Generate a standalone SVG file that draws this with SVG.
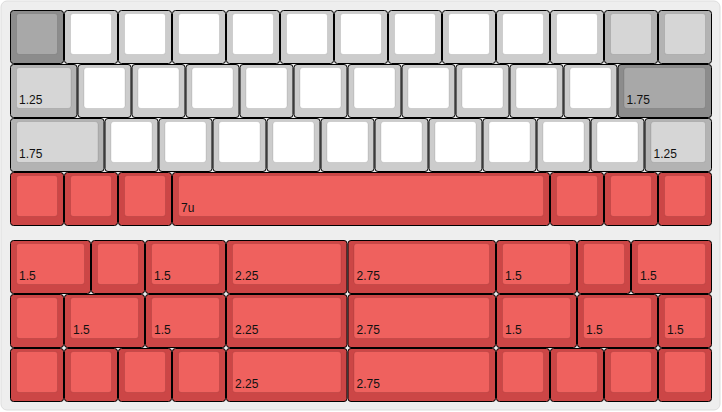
<svg xmlns="http://www.w3.org/2000/svg" width="722" height="412" viewBox="0 0 722 412">
<style>
.o{stroke:#000;stroke-width:1}
.i{stroke:rgba(0,0,0,0.1);stroke-width:1}
.w .o{fill:#cccccc}.w .i{fill:#ffffff}
.l .o{fill:#b3b3b3}.l .i{fill:#d6d6d6}
.d .o{fill:#8c8c8c}.d .i{fill:#a8a8a8}
.r .o{fill:#cc4646}.r .i{fill:#ef615e}
text{font-family:"Liberation Sans",Arial,sans-serif;font-size:12px;fill:#111}
</style>
<rect x="1" y="1" width="719" height="409" rx="6" fill="#eeeeee" stroke="#dddddd"/>
<g id="row1">
<g id="k1" class="d"><rect class="o" x="10.5" y="10.5" width="53" height="53" rx="3"/><rect class="i" x="16.5" y="13.5" width="41" height="41" rx="3"/></g>
<g id="k2" class="w"><rect class="o" x="64.5" y="10.5" width="53" height="53" rx="3"/><rect class="i" x="70.5" y="13.5" width="41" height="41" rx="3"/></g>
<g id="k3" class="w"><rect class="o" x="118.5" y="10.5" width="53" height="53" rx="3"/><rect class="i" x="124.5" y="13.5" width="41" height="41" rx="3"/></g>
<g id="k4" class="w"><rect class="o" x="172.5" y="10.5" width="53" height="53" rx="3"/><rect class="i" x="178.5" y="13.5" width="41" height="41" rx="3"/></g>
<g id="k5" class="w"><rect class="o" x="226.5" y="10.5" width="53" height="53" rx="3"/><rect class="i" x="232.5" y="13.5" width="41" height="41" rx="3"/></g>
<g id="k6" class="w"><rect class="o" x="280.5" y="10.5" width="53" height="53" rx="3"/><rect class="i" x="286.5" y="13.5" width="41" height="41" rx="3"/></g>
<g id="k7" class="w"><rect class="o" x="334.5" y="10.5" width="53" height="53" rx="3"/><rect class="i" x="340.5" y="13.5" width="41" height="41" rx="3"/></g>
<g id="k8" class="w"><rect class="o" x="388.5" y="10.5" width="53" height="53" rx="3"/><rect class="i" x="394.5" y="13.5" width="41" height="41" rx="3"/></g>
<g id="k9" class="w"><rect class="o" x="442.5" y="10.5" width="53" height="53" rx="3"/><rect class="i" x="448.5" y="13.5" width="41" height="41" rx="3"/></g>
<g id="k10" class="w"><rect class="o" x="496.5" y="10.5" width="53" height="53" rx="3"/><rect class="i" x="502.5" y="13.5" width="41" height="41" rx="3"/></g>
<g id="k11" class="w"><rect class="o" x="550.5" y="10.5" width="53" height="53" rx="3"/><rect class="i" x="556.5" y="13.5" width="41" height="41" rx="3"/></g>
<g id="k12" class="l"><rect class="o" x="604.5" y="10.5" width="53" height="53" rx="3"/><rect class="i" x="610.5" y="13.5" width="41" height="41" rx="3"/></g>
<g id="k13" class="l"><rect class="o" x="658.5" y="10.5" width="53" height="53" rx="3"/><rect class="i" x="664.5" y="13.5" width="41" height="41" rx="3"/></g>
</g>
<g id="row2">
<g id="k14" class="l"><rect class="o" x="10.5" y="64.5" width="66.5" height="53" rx="3"/><rect class="i" x="16.5" y="67.5" width="54.5" height="41" rx="3"/><text x="19" y="104">1.25</text></g>
<g id="k15" class="w"><rect class="o" x="78" y="64.5" width="53" height="53" rx="3"/><rect class="i" x="84" y="67.5" width="41" height="41" rx="3"/></g>
<g id="k16" class="w"><rect class="o" x="132" y="64.5" width="53" height="53" rx="3"/><rect class="i" x="138" y="67.5" width="41" height="41" rx="3"/></g>
<g id="k17" class="w"><rect class="o" x="186" y="64.5" width="53" height="53" rx="3"/><rect class="i" x="192" y="67.5" width="41" height="41" rx="3"/></g>
<g id="k18" class="w"><rect class="o" x="240" y="64.5" width="53" height="53" rx="3"/><rect class="i" x="246" y="67.5" width="41" height="41" rx="3"/></g>
<g id="k19" class="w"><rect class="o" x="294" y="64.5" width="53" height="53" rx="3"/><rect class="i" x="300" y="67.5" width="41" height="41" rx="3"/></g>
<g id="k20" class="w"><rect class="o" x="348" y="64.5" width="53" height="53" rx="3"/><rect class="i" x="354" y="67.5" width="41" height="41" rx="3"/></g>
<g id="k21" class="w"><rect class="o" x="402" y="64.5" width="53" height="53" rx="3"/><rect class="i" x="408" y="67.5" width="41" height="41" rx="3"/></g>
<g id="k22" class="w"><rect class="o" x="456" y="64.5" width="53" height="53" rx="3"/><rect class="i" x="462" y="67.5" width="41" height="41" rx="3"/></g>
<g id="k23" class="w"><rect class="o" x="510" y="64.5" width="53" height="53" rx="3"/><rect class="i" x="516" y="67.5" width="41" height="41" rx="3"/></g>
<g id="k24" class="w"><rect class="o" x="564" y="64.5" width="53" height="53" rx="3"/><rect class="i" x="570" y="67.5" width="41" height="41" rx="3"/></g>
<g id="k25" class="d"><rect class="o" x="618" y="64.5" width="93.5" height="53" rx="3"/><rect class="i" x="624" y="67.5" width="81.5" height="41" rx="3"/><text x="626.5" y="104">1.75</text></g>
</g>
<g id="row3">
<g id="k26" class="l"><rect class="o" x="10.5" y="118.5" width="93.5" height="53" rx="3"/><rect class="i" x="16.5" y="121.5" width="81.5" height="41" rx="3"/><text x="19" y="158">1.75</text></g>
<g id="k27" class="w"><rect class="o" x="105" y="118.5" width="53" height="53" rx="3"/><rect class="i" x="111" y="121.5" width="41" height="41" rx="3"/></g>
<g id="k28" class="w"><rect class="o" x="159" y="118.5" width="53" height="53" rx="3"/><rect class="i" x="165" y="121.5" width="41" height="41" rx="3"/></g>
<g id="k29" class="w"><rect class="o" x="213" y="118.5" width="53" height="53" rx="3"/><rect class="i" x="219" y="121.5" width="41" height="41" rx="3"/></g>
<g id="k30" class="w"><rect class="o" x="267" y="118.5" width="53" height="53" rx="3"/><rect class="i" x="273" y="121.5" width="41" height="41" rx="3"/></g>
<g id="k31" class="w"><rect class="o" x="321" y="118.5" width="53" height="53" rx="3"/><rect class="i" x="327" y="121.5" width="41" height="41" rx="3"/></g>
<g id="k32" class="w"><rect class="o" x="375" y="118.5" width="53" height="53" rx="3"/><rect class="i" x="381" y="121.5" width="41" height="41" rx="3"/></g>
<g id="k33" class="w"><rect class="o" x="429" y="118.5" width="53" height="53" rx="3"/><rect class="i" x="435" y="121.5" width="41" height="41" rx="3"/></g>
<g id="k34" class="w"><rect class="o" x="483" y="118.5" width="53" height="53" rx="3"/><rect class="i" x="489" y="121.5" width="41" height="41" rx="3"/></g>
<g id="k35" class="w"><rect class="o" x="537" y="118.5" width="53" height="53" rx="3"/><rect class="i" x="543" y="121.5" width="41" height="41" rx="3"/></g>
<g id="k36" class="w"><rect class="o" x="591" y="118.5" width="53" height="53" rx="3"/><rect class="i" x="597" y="121.5" width="41" height="41" rx="3"/></g>
<g id="k37" class="l"><rect class="o" x="645" y="118.5" width="66.5" height="53" rx="3"/><rect class="i" x="651" y="121.5" width="54.5" height="41" rx="3"/><text x="653.5" y="158">1.25</text></g>
</g>
<g id="row4">
<g id="k38" class="r"><rect class="o" x="10.5" y="172.5" width="53" height="53" rx="3"/><rect class="i" x="16.5" y="175.5" width="41" height="41" rx="3"/></g>
<g id="k39" class="r"><rect class="o" x="64.5" y="172.5" width="53" height="53" rx="3"/><rect class="i" x="70.5" y="175.5" width="41" height="41" rx="3"/></g>
<g id="k40" class="r"><rect class="o" x="118.5" y="172.5" width="53" height="53" rx="3"/><rect class="i" x="124.5" y="175.5" width="41" height="41" rx="3"/></g>
<g id="k41" class="r"><rect class="o" x="172.5" y="172.5" width="377" height="53" rx="3"/><rect class="i" x="178.5" y="175.5" width="365" height="41" rx="3"/><text x="181" y="212">7u</text></g>
<g id="k42" class="r"><rect class="o" x="550.5" y="172.5" width="53" height="53" rx="3"/><rect class="i" x="556.5" y="175.5" width="41" height="41" rx="3"/></g>
<g id="k43" class="r"><rect class="o" x="604.5" y="172.5" width="53" height="53" rx="3"/><rect class="i" x="610.5" y="175.5" width="41" height="41" rx="3"/></g>
<g id="k44" class="r"><rect class="o" x="658.5" y="172.5" width="53" height="53" rx="3"/><rect class="i" x="664.5" y="175.5" width="41" height="41" rx="3"/></g>
</g>
<g id="row5">
<g id="k45" class="r"><rect class="o" x="10.5" y="240.5" width="80" height="53" rx="3"/><rect class="i" x="16.5" y="243.5" width="68" height="41" rx="3"/><text x="19" y="280">1.5</text></g>
<g id="k46" class="r"><rect class="o" x="91.5" y="240.5" width="53" height="53" rx="3"/><rect class="i" x="97.5" y="243.5" width="41" height="41" rx="3"/></g>
<g id="k47" class="r"><rect class="o" x="145.5" y="240.5" width="80" height="53" rx="3"/><rect class="i" x="151.5" y="243.5" width="68" height="41" rx="3"/><text x="154" y="280">1.5</text></g>
<g id="k48" class="r"><rect class="o" x="226.5" y="240.5" width="120.5" height="53" rx="3"/><rect class="i" x="232.5" y="243.5" width="108.5" height="41" rx="3"/><text x="235" y="280">2.25</text></g>
<g id="k49" class="r"><rect class="o" x="348" y="240.5" width="147.5" height="53" rx="3"/><rect class="i" x="354" y="243.5" width="135.5" height="41" rx="3"/><text x="356.5" y="280">2.75</text></g>
<g id="k50" class="r"><rect class="o" x="496.5" y="240.5" width="80" height="53" rx="3"/><rect class="i" x="502.5" y="243.5" width="68" height="41" rx="3"/><text x="505" y="280">1.5</text></g>
<g id="k51" class="r"><rect class="o" x="577.5" y="240.5" width="53" height="53" rx="3"/><rect class="i" x="583.5" y="243.5" width="41" height="41" rx="3"/></g>
<g id="k52" class="r"><rect class="o" x="631.5" y="240.5" width="80" height="53" rx="3"/><rect class="i" x="637.5" y="243.5" width="68" height="41" rx="3"/><text x="640" y="280">1.5</text></g>
</g>
<g id="row6">
<g id="k53" class="r"><rect class="o" x="10.5" y="294.5" width="53" height="53" rx="3"/><rect class="i" x="16.5" y="297.5" width="41" height="41" rx="3"/></g>
<g id="k54" class="r"><rect class="o" x="64.5" y="294.5" width="80" height="53" rx="3"/><rect class="i" x="70.5" y="297.5" width="68" height="41" rx="3"/><text x="73" y="334">1.5</text></g>
<g id="k55" class="r"><rect class="o" x="145.5" y="294.5" width="80" height="53" rx="3"/><rect class="i" x="151.5" y="297.5" width="68" height="41" rx="3"/><text x="154" y="334">1.5</text></g>
<g id="k56" class="r"><rect class="o" x="226.5" y="294.5" width="120.5" height="53" rx="3"/><rect class="i" x="232.5" y="297.5" width="108.5" height="41" rx="3"/><text x="235" y="334">2.25</text></g>
<g id="k57" class="r"><rect class="o" x="348" y="294.5" width="147.5" height="53" rx="3"/><rect class="i" x="354" y="297.5" width="135.5" height="41" rx="3"/><text x="356.5" y="334">2.75</text></g>
<g id="k58" class="r"><rect class="o" x="496.5" y="294.5" width="80" height="53" rx="3"/><rect class="i" x="502.5" y="297.5" width="68" height="41" rx="3"/><text x="505" y="334">1.5</text></g>
<g id="k59" class="r"><rect class="o" x="577.5" y="294.5" width="80" height="53" rx="3"/><rect class="i" x="583.5" y="297.5" width="68" height="41" rx="3"/><text x="586" y="334">1.5</text></g>
<g id="k60" class="r"><rect class="o" x="658.5" y="294.5" width="53" height="53" rx="3"/><rect class="i" x="664.5" y="297.5" width="41" height="41" rx="3"/><text x="667" y="334">1.5</text></g>
</g>
<g id="row7">
<g id="k61" class="r"><rect class="o" x="10.5" y="348.5" width="53" height="53" rx="3"/><rect class="i" x="16.5" y="351.5" width="41" height="41" rx="3"/></g>
<g id="k62" class="r"><rect class="o" x="64.5" y="348.5" width="53" height="53" rx="3"/><rect class="i" x="70.5" y="351.5" width="41" height="41" rx="3"/></g>
<g id="k63" class="r"><rect class="o" x="118.5" y="348.5" width="53" height="53" rx="3"/><rect class="i" x="124.5" y="351.5" width="41" height="41" rx="3"/></g>
<g id="k64" class="r"><rect class="o" x="172.5" y="348.5" width="53" height="53" rx="3"/><rect class="i" x="178.5" y="351.5" width="41" height="41" rx="3"/></g>
<g id="k65" class="r"><rect class="o" x="226.5" y="348.5" width="120.5" height="53" rx="3"/><rect class="i" x="232.5" y="351.5" width="108.5" height="41" rx="3"/><text x="235" y="388">2.25</text></g>
<g id="k66" class="r"><rect class="o" x="348" y="348.5" width="147.5" height="53" rx="3"/><rect class="i" x="354" y="351.5" width="135.5" height="41" rx="3"/><text x="356.5" y="388">2.75</text></g>
<g id="k67" class="r"><rect class="o" x="496.5" y="348.5" width="53" height="53" rx="3"/><rect class="i" x="502.5" y="351.5" width="41" height="41" rx="3"/></g>
<g id="k68" class="r"><rect class="o" x="550.5" y="348.5" width="53" height="53" rx="3"/><rect class="i" x="556.5" y="351.5" width="41" height="41" rx="3"/></g>
<g id="k69" class="r"><rect class="o" x="604.5" y="348.5" width="53" height="53" rx="3"/><rect class="i" x="610.5" y="351.5" width="41" height="41" rx="3"/></g>
<g id="k70" class="r"><rect class="o" x="658.5" y="348.5" width="53" height="53" rx="3"/><rect class="i" x="664.5" y="351.5" width="41" height="41" rx="3"/></g>
</g>
<g id="connectors"/>
</svg>
